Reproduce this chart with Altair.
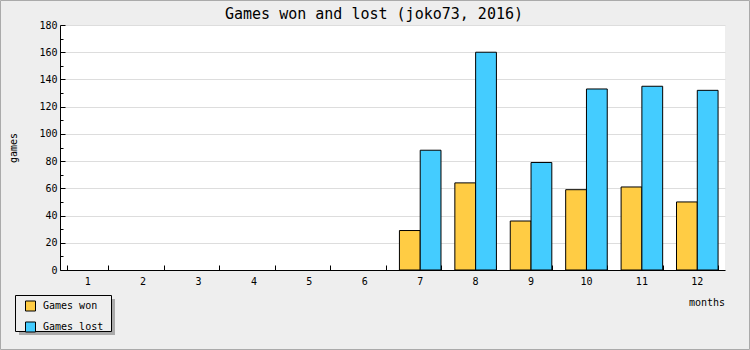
import altair as alt
import pandas as pd

# ---- data ----
months = [1, 2, 3, 4, 5, 6, 7, 8, 9, 10, 11, 12]
games_won = [0, 0, 0, 0, 0, 0, 29, 64, 36, 59, 61, 50]
games_lost = [0, 0, 0, 0, 0, 0, 88, 160, 79, 133, 135, 132]
series = ["Games won", "Games lost"]
colors = ["#ffcc44", "#44ccff"]
y_major = list(range(0, 181, 20))
y_minor = list(range(10, 171, 20))

rows = []
for m, w, l in zip(months, games_won, games_lost):
    rows.append({"month": m, "series": series[0], "games": w})
    rows.append({"month": m, "series": series[1], "games": l})
df = pd.DataFrame(rows)

FONT = "DejaVu Sans Mono"
W, H = 665, 245

xscale = alt.Scale(paddingInner=0.25, paddingOuter=0.125)
yscale = alt.Scale(domain=[0, 180], nice=False, zero=True)
xoff = alt.XOffset("series:N", sort=series, scale=alt.Scale(paddingInner=0, paddingOuter=0))
color = alt.Color(
    "series:N", sort=series,
    scale=alt.Scale(domain=series, range=colors),
    legend=alt.Legend(
        orient="none", legendX=-35, legendY=275.5, title=None,
        symbolType="square", symbolSize=100, symbolStrokeColor="black",
        symbolStrokeWidth=1, symbolOpacity=1, rowPadding=6, labelOffset=7,
        labelFont=FONT, labelFontSize=10, labelColor="black", padding=0,
    ),
)

base = alt.Chart(df)

bars = base.mark_bar(stroke="black", strokeWidth=1).encode(
    x=alt.X("month:O", scale=xscale, axis=alt.Axis(
        orient="bottom", title="months", ticks=False, tickSize=0, labelPadding=6,
        labelAngle=0, labelFont=FONT, labelFontSize=10, labelColor="black",
        domainColor="black", grid=False,
        titleFont=FONT, titleFontSize=10, titleFontWeight="normal", titleColor="black",
        titleX=664.5, titleY=35, titleAlign="right", titleBaseline="alphabetic",
    )),
    xOffset=xoff,
    y=alt.Y("games:Q", scale=yscale, axis=alt.Axis(
        orient="left", title="games", values=y_major, ticks=False, tickSize=0,
        labelPadding=3, labelFont=FONT, labelFontSize=10, labelColor="black",
        grid=True, gridColor="#dddddd", gridWidth=1, domainColor="black",
        titleFont=FONT, titleFontSize=10, titleFontWeight="normal", titleColor="black",
        titleX=-44, titleY=122.5, titleAngle=270, titleAlign="center",
        titleBaseline="alphabetic",
    )),
    color=color,
).transform_filter("datum.games > 0")

ticks_major = base.mark_bar(opacity=0).encode(
    x=alt.X("month:O", scale=xscale, axis=alt.Axis(
        orient="top", offset=-H, labels=False, domain=False, ticks=True,
        tickSize=5, tickColor="black", tickBand="extent", grid=False, title="",
    )),
    xOffset=xoff,
    y=alt.Y("games:Q", scale=yscale, axis=alt.Axis(
        orient="right", offset=-W, values=y_major, labels=False, domain=False,
        ticks=True, tickSize=5, tickColor="black", grid=False, title="",
    )),
)

ticks_minor = base.mark_bar(opacity=0).encode(
    x=alt.X("month:O", scale=xscale, axis=None),
    xOffset=xoff,
    y=alt.Y("games:Q", scale=yscale, axis=alt.Axis(
        orient="right", offset=-W, values=y_minor, labels=False, domain=False,
        ticks=True, tickSize=3, tickColor="black", grid=False, title="",
    )),
)

one = alt.Chart(pd.DataFrame({"k": [0]}))
outer_border = one.mark_rect(fill="#eeeeee", fillOpacity=0, stroke="#aaaaaa", strokeWidth=1).encode(
    x=alt.value(-59.5), x2=alt.value(689.5), y=alt.value(-24.5), y2=alt.value(324.5)
)
legend_shadow = one.mark_rect(fill="#aaaaaa").encode(
    x=alt.value(-41), x2=alt.value(55), y=alt.value(274), y2=alt.value(310)
)
legend_box = one.mark_rect(fill="#eeeeee", stroke="black", strokeWidth=1).encode(
    x=alt.value(-44.5), x2=alt.value(51.5), y=alt.value(270.5), y2=alt.value(306.5)
)

chart = alt.layer(
    outer_border, legend_shadow, legend_box, bars, ticks_major, ticks_minor
).resolve_axis(
    x="independent", y="independent"
).properties(
    width=W, height=H,
    title=alt.TitleParams(
        "Games won and lost (joko73, 2016)", font=FONT, fontSize=15,
        fontWeight="normal", color="black", anchor="middle", frame="group",
        dx=-18.5, offset=0, dy=33.5, baseline="alphabetic",
    ),
    autosize=alt.AutoSizeParams(type="none"),
    padding={"left": 60, "top": 25, "right": 25, "bottom": 80},
    background="#eeeeee",
).configure_view(
    fill="white", stroke=None
)

chart.save("out.html", embed_options={"renderer": "svg", "actions": False})
